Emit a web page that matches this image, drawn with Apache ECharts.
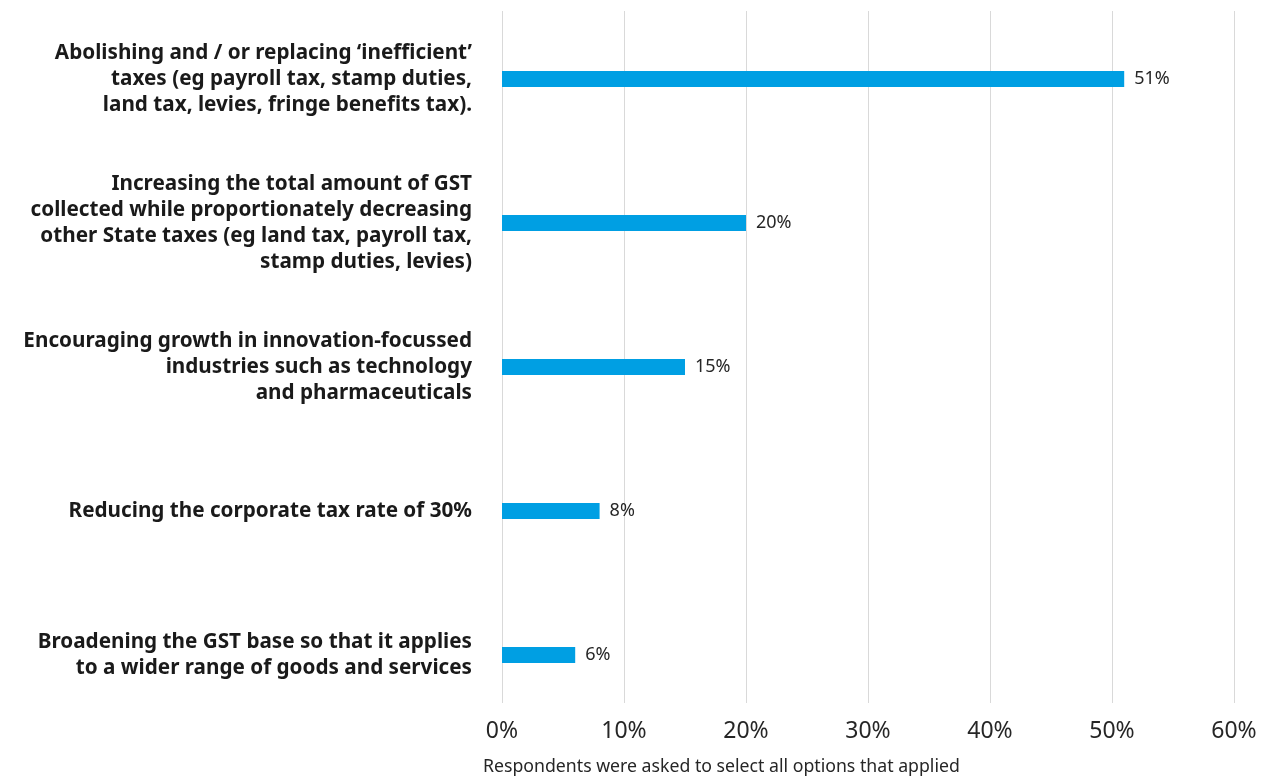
<!DOCTYPE html>
<html>
<head>
<meta charset="utf-8">
<script src="https://cdn.jsdelivr.net/npm/echarts@6/dist/echarts.min.js"></script>
<style>
  html, body { margin: 0; padding: 0; background: #ffffff; }
  #chart { width: 1288px; height: 779px; }
</style>
</head>
<body>
<div id="chart"></div>
<script>
// Policy options, top to bottom
const categories = [
  "Abolishing and / or replacing \u2018inefficient\u2019\ntaxes (eg payroll tax, stamp duties,\nland tax, levies, fringe benefits tax).",
  "Increasing the total amount of GST\ncollected while proportionately decreasing\nother State taxes (eg land tax, payroll tax,\nstamp duties, levies)",
  "Encouraging growth in innovation-focussed\nindustries such as technology\nand pharmaceuticals",
  "Reducing the corporate tax rate of 30%",
  "Broadening the GST base so that it applies\nto a wider range of goods and services"
];
// Share of respondents selecting each option (%)
const shares = [51, 20, 15, 8, 6];
// Value axis ticks (%)
const tickValues = [0, 10, 20, 30, 40, 50, 60];
const footnote = "Respondents were asked to select all options that applied";

const FONT = "'Source Sans Pro', 'Noto Sans', 'Open Sans', sans-serif";
const chart = echarts.init(document.getElementById('chart'));

chart.setOption({
  animation: false,
  backgroundColor: '#ffffff',
  grid: [
    { left: 502, width: 732, top: 7, height: 720 },
    { left: 502, width: 732, top: 11, height: 692 }
  ],
  xAxis: [
    { gridIndex: 0, type: 'value', min: tickValues[0], max: tickValues[tickValues.length - 1], interval: 10, show: false },
    {
      gridIndex: 1, type: 'value',
      min: tickValues[0], max: tickValues[tickValues.length - 1], interval: 10,
      axisLine: { show: false }, axisTick: { show: false },
      splitLine: { show: true, lineStyle: { color: '#d9d9d9', width: 1 } },
      axisLabel: { formatter: '{value}%', fontFamily: FONT, fontSize: 23, color: '#262626', margin: 17 }
    }
  ],
  yAxis: [
    {
      gridIndex: 0, type: 'category', data: categories, inverse: true,
      axisLine: { show: false }, axisTick: { show: false }, splitLine: { show: false },
      axisLabel: { fontFamily: FONT, fontWeight: 'bold', fontSize: 20.7, lineHeight: 26, color: '#1a1a1a', margin: 30, align: 'right' }
    },
    { gridIndex: 1, type: 'category', data: categories, show: false }
  ],
  series: [{
    type: 'bar',
    xAxisIndex: 0, yAxisIndex: 0,
    data: shares,
    barWidth: 16,
    itemStyle: { color: '#009fe3' },
    label: {
      show: true, position: 'right', distance: 10,
      formatter: p => p.value + '%',
      fontFamily: FONT, fontSize: 18, color: '#262626'
    }
  }],
  graphic: [{
    type: 'text', left: 483, top: 758,
    style: { text: footnote, fontFamily: FONT, fontSize: 17.7, fill: '#262626' }
  }]
});
</script>
</body>
</html>
